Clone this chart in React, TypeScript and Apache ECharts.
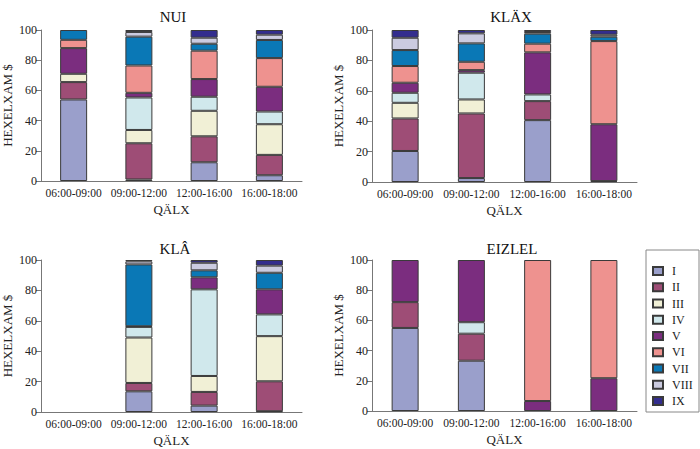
import React, { useEffect, useRef } from "react";
import * as echarts from "echarts";

const classes = ["I", "II", "III", "IV", "V", "VI", "VII", "VIII", "IX"];
const colors = ["#9a9fcb", "#9e4d76", "#f1f0d6", "#d0e8ec", "#7b2d7f", "#ee928f", "#0a78b6", "#cbcbe0", "#332d8e"];
const categories = ["06:00-09:00", "09:00-12:00", "12:00-16:00", "16:00-18:00"];
const titles = ["NUI", "KLÄX", "KLÂ", "EIZLEL"];
const yTicks = [0, 20, 40, 60, 80, 100];
const xName = "QÄLX";
const yName = "HEXELXAM $";

// rows = classes I..IX, columns = categories
const panel1 = [
  [54, 1, 12.4, 3.8],
  [11.5, 24, 17.2, 13.5],
  [5.5, 8.8, 16.9, 20.3],
  [0, 21.5, 9.3, 8.4],
  [17, 3.1, 11.7, 16.4],
  [5.5, 18.1, 18.8, 19],
  [6.5, 19.1, 4.6, 12],
  [0, 3.1, 4.0, 3.5],
  [0, 1.3, 5.1, 3.1],
];
const panel2 = [
  [20.4, 2.6, 40.7, 0],
  [21.4, 42.5, 12.5, 0.6],
  [10.3, 9.2, 0, 0],
  [6.6, 17.6, 4.4, 0],
  [6.6, 1.7, 27.7, 37.4],
  [11, 5.5, 5.7, 54.7],
  [10.5, 12.1, 6.6, 2.9],
  [8.1, 6.6, 1.1, 1.3],
  [5.1, 2.2, 1.3, 3.1],
];
const panel3 = [
  [0, 13.6, 4.2, 0.5],
  [0, 5.5, 9.0, 19.7],
  [0, 29.9, 10.5, 29.7],
  [0, 7.0, 57, 14.3],
  [0, 0.4, 7.9, 16.5],
  [0, 0, 0, 0],
  [0, 40.7, 4.6, 10.9],
  [0, 2.0, 5.0, 4.7],
  [0, 0.9, 1.8, 3.7],
];
const panel4 = [
  [55, 33.3, 0, 0],
  [17.1, 17.9, 0, 0],
  [0, 0, 0, 0],
  [0, 7.6, 0, 0],
  [27.9, 41.2, 6.6, 21.7],
  [0, 0, 93.4, 78.3],
  [0, 0, 0, 0],
  [0, 0, 0, 0],
  [0, 0, 0, 0],
];
const panels = [panel1, panel2, panel3, panel4];

const FONT = "Liberation Serif";

export default function App() {
  const ref = useRef<HTMLDivElement>(null);
  useEffect(() => {
    const chart = echarts.init(ref.current!, undefined, { renderer: "svg" });
    const grids = [
      { left: 36, top: 30, width: 266, height: 151 },
      { left: 372, top: 30, width: 265, height: 152 },
      { left: 36, top: 260, width: 266, height: 152 },
      { left: 372, top: 260, width: 265, height: 151 },
    ];
    const titleCenters = [
      { x: 168, y: 4 },
      { x: 506, y: 4 },
      { x: 170, y: 236 },
      { x: 507, y: 236 },
    ];
    const series: any[] = [];
    panels.forEach((p, pi) => {
      p.forEach((row, ci) => {
        series.push({
          type: "bar",
          name: classes[ci],
          xAxisIndex: pi,
          yAxisIndex: pi,
          stack: "s" + pi,
          barWidth: 27,
          data: row.map((v) => (v === 0 ? null : v)),
          itemStyle: { color: colors[ci], borderColor: "#3a3a3a", borderWidth: 1 },
        });
      });
    });
    const option: any = {
      animation: false,
      textStyle: { fontFamily: FONT },
      title: titles.map((t, i) => ({
        text: t,
        left: titleCenters[i].x,
        top: titleCenters[i].y,
        textAlign: "center",
        textStyle: { fontFamily: FONT, fontSize: 15, fontWeight: "normal", color: "#111" },
      })),
      grid: grids,
      xAxis: grids.map((_, i) => ({
        type: "category",
        gridIndex: i,
        data: categories,
        name: xName,
        nameLocation: "middle",
        nameGap: 22,
        nameTextStyle: { fontFamily: FONT, fontSize: 13, color: "#222" },
        axisLine: { lineStyle: { color: "#777" } },
        axisTick: { alignWithLabel: false, lineStyle: { color: "#777" } },
        axisLabel: { fontFamily: FONT, fontSize: 11.5, color: "#222", margin: 6, interval: 0 },
      })),
      yAxis: grids.map((_, i) => ({
        type: "value",
        gridIndex: i,
        min: 0,
        max: 100,
        interval: 20,
        name: yName,
        nameLocation: "middle",
        nameGap: 27,
        nameTextStyle: { fontFamily: FONT, fontSize: 13, color: "#222" },
        splitLine: { show: false },
        axisLine: { show: true, lineStyle: { color: "#777" } },
        axisTick: { show: true, lineStyle: { color: "#777" } },
        axisLabel: {
          fontFamily: FONT,
          fontSize: 12,
          color: "#222",
          margin: 4,
          formatter: (v: number) => (yTicks.includes(v) ? String(v) : ""),
        },
      })),
      legend: {
        orient: "vertical",
        left: 652,
        top: 265,
        data: classes,
        icon: "rect",
        itemWidth: 10,
        itemHeight: 8,
        itemGap: 4.25,
        padding: 0,
        textStyle: { fontFamily: FONT, fontSize: 12, color: "#222", lineHeight: 12, padding: [0, 0, 0, 4] },
      },
      graphic: [
        {
          type: "rect",
          shape: { x: 646, y: 250, width: 53, height: 162 },
          style: { fill: "none", stroke: "#888", lineWidth: 1 },
          silent: true,
        },
      ],
      series,
    };
    chart.setOption(option);
    return () => chart.dispose();
  }, []);
  return <div ref={ref} style={{ width: 700, height: 449, position: "absolute", left: 0, top: 0 }} />;
}
